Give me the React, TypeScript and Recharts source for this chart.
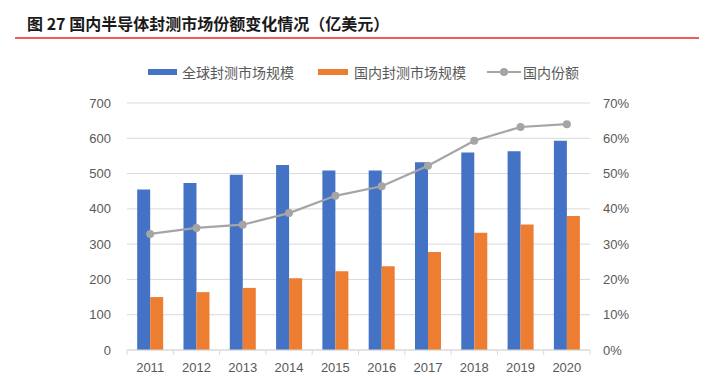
/**
 * 国内半导体封测市场份额变化情况 - bar + line combo chart
 */

import {
  ComposedChart,
  Bar,
  Line,
  XAxis,
  YAxis,
  CartesianGrid,
  Legend,
} from 'recharts'

const years = ['2011', '2012', '2013', '2014', '2015', '2016', '2017', '2018', '2019', '2020']
const globalMarket = [455, 473, 497, 524, 509, 509, 532, 560, 563, 593]
const domesticMarket = [150, 164, 176, 203, 223, 237, 278, 332, 356, 380]
const domesticShare = [0.329, 0.346, 0.355, 0.388, 0.437, 0.464, 0.522, 0.593, 0.632, 0.64]

const leftTicks = [0, 100, 200, 300, 400, 500, 600, 700]
const rightTicks = [0, 0.1, 0.2, 0.3, 0.4, 0.5, 0.6, 0.7]

const seriesNames = ['全球封测市场规模', '国内封测市场规模', '国内份额']

const data = years.map((year, i) => ({
  year,
  global: globalMarket[i],
  domestic: domesticMarket[i],
  share: domesticShare[i],
}))

const BLUE = '#4472C4'
const ORANGE = '#ED7D31'
const GRAY = '#A5A5A5'
const TEXT = '#595959'
const GRID = '#D9D9D9'

const NUM_FONT = '"Liberation Sans", Arial, sans-serif'
const CJK_FONT = '"Noto Sans CJK SC", sans-serif'

// plot area geometry
const CHART_W = 706
const CHART_H = 376
const PLOT_LEFT = 127
const PLOT_RIGHT = 590
const HALF_BAND = (PLOT_RIGHT - PLOT_LEFT) / years.length / 2

// Category tick: label at the centre, tick mark at the band boundaries
function YearTick(props: any) {
  const { x, y, payload, index } = props
  const axisY = y - 12
  return (
    <g>
      <line x1={x - HALF_BAND} x2={x - HALF_BAND} y1={axisY} y2={axisY + 5} stroke={GRID} />
      {index === years.length - 1 && (
        <line x1={x + HALF_BAND} x2={x + HALF_BAND} y1={axisY} y2={axisY + 5} stroke={GRID} />
      )}
      <text
        x={x}
        y={axisY + 17}
        textAnchor="middle"
        dominantBaseline="central"
        fill={TEXT}
        fontSize={13}
        fontFamily={NUM_FONT}
      >
        {payload.value}
      </text>
    </g>
  )
}

function ChartLegend() {
  const label = { fontSize: 14, color: TEXT, fontFamily: CJK_FONT, lineHeight: '14px' }
  return (
    <div style={{ display: 'flex', alignItems: 'center', paddingLeft: 148, height: 20 }}>
      <div style={{ width: 29, height: 6, background: BLUE, marginRight: 5 }} />
      <span style={label}>{seriesNames[0]}</span>
      <div style={{ width: 30, height: 6, background: ORANGE, marginLeft: 24, marginRight: 6 }} />
      <span style={label}>{seriesNames[1]}</span>
      <svg width={34} height={10} style={{ marginLeft: 21, marginRight: 2 }}>
        <line x1={0} x2={34} y1={5} y2={5} stroke={GRAY} strokeWidth={2} />
        <circle cx={17} cy={5} r={4} fill={GRAY} />
      </svg>
      <span style={label}>{seriesNames[2]}</span>
    </div>
  )
}

export default function App() {
  return (
    <div
      style={{
        position: 'absolute',
        left: 0,
        top: 0,
        width: CHART_W,
        height: CHART_H,
        background: '#fff',
      }}
    >
      {/* Title */}
      <div
        style={{
          position: 'absolute',
          left: 27,
          top: 12,
          fontFamily: CJK_FONT,
          fontWeight: 700,
          fontSize: 16,
          lineHeight: '22px',
          color: '#1a1a1a',
          whiteSpace: 'nowrap',
        }}
      >
        图 27 国内半导体封测市场份额变化情况（亿美元）
      </div>
      <div
        style={{
          position: 'absolute',
          left: 15,
          top: 37,
          width: 684,
          height: 2,
          background: '#F25B5B',
        }}
      />

      <ComposedChart
        width={CHART_W}
        height={CHART_H}
        data={data}
        margin={{ top: 83, right: 66, left: 77, bottom: 0 }}
        barCategoryGap="22%"
        barGap={0}
        style={{ position: 'absolute', left: 0, top: 0 }}
      >
        <CartesianGrid vertical={false} stroke={GRID} yAxisId="left" />

        <XAxis
          dataKey="year"
          height={26}
          axisLine={{ stroke: GRID }}
          tickLine={false}
          tickSize={6}
          tickMargin={6}
          tick={<YearTick />}
          interval={0}
        />

        <YAxis
          yAxisId="left"
          domain={[0, 700]}
          ticks={leftTicks}
          width={50}
          axisLine={false}
          tickLine={false}
          tickMargin={10}
          tick={{ fill: TEXT, fontSize: 13, fontFamily: NUM_FONT }}
        />

        <YAxis
          yAxisId="right"
          orientation="right"
          domain={[0, 0.7]}
          ticks={rightTicks}
          width={50}
          axisLine={false}
          tickLine={false}
          tickMargin={7}
          tickFormatter={(v: number) => `${Math.round(v * 100)}%`}
          tick={{ fill: TEXT, fontSize: 13, fontFamily: NUM_FONT, textAnchor: 'start' }}
        />

        <Legend
          verticalAlign="top"
          content={<ChartLegend />}
          wrapperStyle={{ top: 62, left: 0, width: CHART_W }}
        />

        <Bar
          yAxisId="left"
          dataKey="global"
          name={seriesNames[0]}
          fill={BLUE}
          isAnimationActive={false}
        />
        <Bar
          yAxisId="left"
          dataKey="domestic"
          name={seriesNames[1]}
          fill={ORANGE}
          isAnimationActive={false}
        />
        <Line
          yAxisId="right"
          dataKey="share"
          name={seriesNames[2]}
          stroke={GRAY}
          strokeWidth={2.25}
          dot={{ r: 4, fill: GRAY, stroke: GRAY, strokeWidth: 0 }}
          isAnimationActive={false}
        />
      </ComposedChart>
    </div>
  )
}
